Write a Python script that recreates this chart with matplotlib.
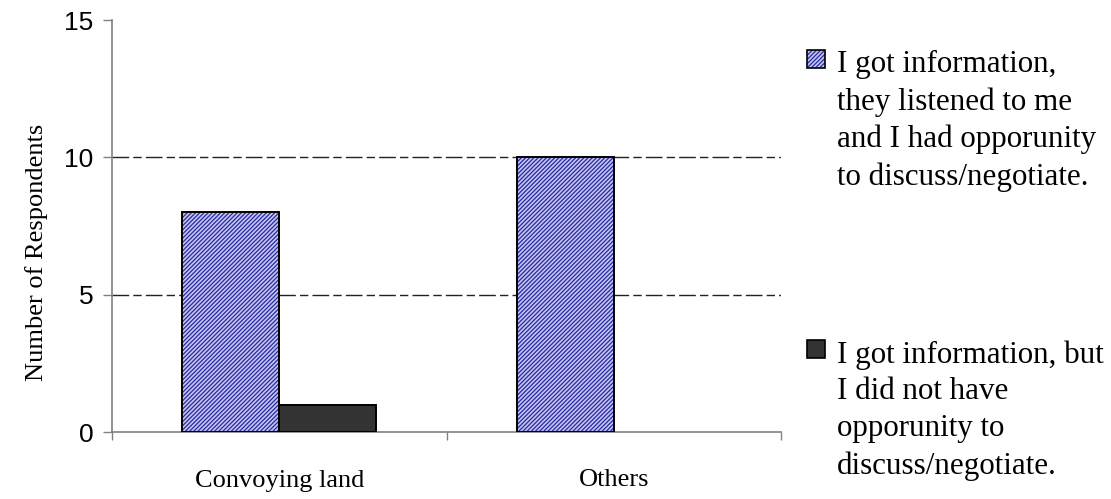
import matplotlib.pyplot as plt
from matplotlib.patches import Rectangle
import numpy as np

categories = ["Convoying land", "Others"]
discussed = [8, 10]
not_discussed = [1, 0]
legend_labels = [
    "I got information,\nthey listened to me\nand I had opporunity\nto discuss/negotiate.",
    "I got information, but\nI did not have\nopporunity to\ndiscuss/negotiate.",
]
y_ticks = [0, 5, 10, 15]

SERIF = "Liberation Serif"
SANS = "Liberation Sans"
HATCH_FACE = "#c4c4f4"
HATCH_LINE = "#2a2a9c"
DARK = "#333333"
SPINE = "#808080"
plt.rcParams["hatch.linewidth"] = 0.9

fig = plt.figure(figsize=(11.11, 4.99), dpi=100)
ax = fig.add_axes([112 / 1111, 1 - 432 / 499, (781 - 112) / 1111, (432 - 20) / 499])

x = np.arange(len(categories))
w = 0.29

# hatched fill first, then a black outline on top
ax.bar(x - w / 2, discussed, w, color=HATCH_FACE, edgecolor=HATCH_LINE,
       hatch="////////", linewidth=0, zorder=3)
ax.bar(x - w / 2, discussed, w, fill=False, edgecolor="black", linewidth=1.4, zorder=4)
dark = ax.bar(x + w / 2, not_discussed, w, color=DARK, edgecolor="black", linewidth=1.4, zorder=4)
for p, v in zip(dark.patches, not_discussed):
    if v == 0:
        p.set_visible(False)

ax.set_xlim(-0.5, len(categories) - 0.5)
ax.set_ylim(0, 15)

for v in y_ticks[1:-1]:
    ax.axhline(v, color="#222222", linewidth=1.0, linestyle=(0, (12, 3, 6, 3)), zorder=1)

for s in ["top", "right"]:
    ax.spines[s].set_visible(False)
for s in ["left", "bottom"]:
    ax.spines[s].set_color(SPINE)
    ax.spines[s].set_linewidth(1.2)

ax.set_yticks(y_ticks)
ax.set_yticklabels([str(t) for t in y_ticks], fontfamily=SANS, fontsize=19)
ax.tick_params(axis="y", direction="out", length=6.5, width=1, color=SPINE, pad=7)

ax.set_xticks(np.arange(len(categories) + 1) - 0.5)
ax.set_xticklabels([])
ax.tick_params(axis="x", which="major", direction="out", length=6, width=1, color=SPINE)
ax.set_xticks(x, minor=True)
ax.set_xticklabels(categories, minor=True, fontfamily=SERIF, fontsize=19)
ax.tick_params(axis="x", which="minor", length=0, pad=27)

fig.text(37 / 1111, 1 - 252 / 499, "Number of Respondents", rotation=90,
         ha="center", va="center", fontfamily=SERIF, fontsize=19)

# legend drawn by hand: marker sits beside the first line of each label
legend_tops = [50, 340]
for i, (lab, top) in enumerate(zip(legend_labels, legend_tops)):
    mx, my = 807 / 1111, 1 - (top + 18) / 499
    mw, mh = 18 / 1111, 18 / 499
    if i == 0:
        fig.add_artist(Rectangle((mx, my), mw, mh, transform=fig.transFigure,
                                 facecolor=HATCH_FACE, edgecolor=HATCH_LINE,
                                 hatch="////////", linewidth=0))
        fig.add_artist(Rectangle((mx, my), mw, mh, transform=fig.transFigure,
                                 fill=False, edgecolor="black", linewidth=1.2))
    else:
        fig.add_artist(Rectangle((mx, my), mw, mh, transform=fig.transFigure,
                                 facecolor=DARK, edgecolor="black", linewidth=1.2))
    fig.text(837 / 1111, 1 - top / 499, lab, ha="left", va="top",
             fontfamily=SERIF, fontsize=22.3, linespacing=1.36)

fig.savefig("out.png", dpi=100)
